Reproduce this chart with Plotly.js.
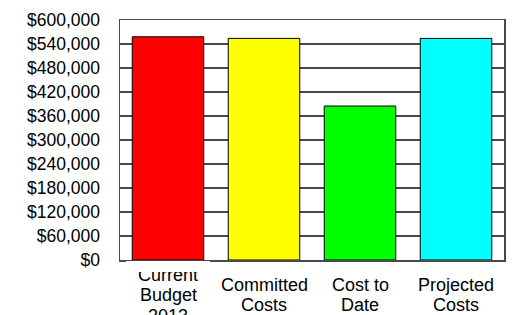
<!DOCTYPE html>
<html>
<head>
<meta charset="utf-8">
<script src="https://cdn.plot.ly/plotly-3.0.1.min.js"></script>
<style>html,body{margin:0;padding:0;background:#fff;}#chart{width:513px;height:315px;}</style>
</head>
<body>
<div id="chart"></div>
<script>
const categories = ["Current Budget 2013", "Committed Costs", "Cost to Date", "Projected Costs"];
const labelLines = [["Current", "Budget", "2013"], ["Committed", "Costs"], ["Cost to", "Date"], ["Projected", "Costs"]];
const values = [558000, 554000, 385000, 554000];
const colors = ["#FF0000", "#FFFF00", "#00FF00", "#00FFFF"];
const tickVals = [0, 60000, 120000, 180000, 240000, 300000, 360000, 420000, 480000, 540000, 600000];
const tickText = tickVals.map(v => "$" + v.toLocaleString("en-US"));

const FONT = "Liberation Sans, Arial, sans-serif";
const FS = 18;
const PLOT_TOP = 20, PLOT_BOTTOM = 260, LINE_H = 20.5;

const trace = {
  type: "bar",
  x: categories,
  y: values,
  marker: {color: colors, line: {color: "#000", width: 1}},
  hoverinfo: "none"
};

const annotations = [];
labelLines.forEach((lines, i) => {
  const centreBase = 301.5;
  const n = lines.length;
  lines.forEach((ln, k) => {
    const base = centreBase + (k - (n - 1) / 2) * LINE_H;
    const mid = base - 6.3;
    annotations.push({
      xref: "x", yref: "paper",
      x: categories[i], y: (PLOT_BOTTOM - mid) / (PLOT_BOTTOM - PLOT_TOP),
      xanchor: "center", yanchor: "middle",
      text: ln, showarrow: false,
      font: {family: FONT, size: FS, color: "#000"}
    });
  });
});
annotations.push({
  xref: "x", yref: "paper",
  x: categories[0], y: (PLOT_BOTTOM - 261) / (PLOT_BOTTOM - PLOT_TOP),
  xanchor: "center", yanchor: "top",
  text: " ", showarrow: false, width: 84, height: 10.5,
  borderpad: 0, borderwidth: 0, bgcolor: "#fff",
  font: {size: 2}
});

const layout = {
  width: 513, height: 315,
  margin: {l: 120, r: 9, t: PLOT_TOP, b: 315 - PLOT_BOTTOM, pad: 0},
  paper_bgcolor: "#fff", plot_bgcolor: "#fff",
  showlegend: false,
  bargap: 0.255,
  font: {family: FONT, size: FS, color: "#000"},
  xaxis: {
    type: "category",
    showticklabels: false,
    showgrid: false,
    showline: true, mirror: true, linecolor: "#4a4a4a", linewidth: 1.5,
    ticks: "",
    zeroline: false
  },
  yaxis: {
    range: [0, 600000],
    tickmode: "array",
    tickvals: tickVals,
    ticktext: tickText,
    ticks: "",
    ticklabelstandoff: 15,
    tickfont: {family: FONT, size: 17.5, color: "#000"},
    showgrid: true, gridcolor: "#4a4a4a", gridwidth: 1.5,
    showline: true, mirror: true, linecolor: "#4a4a4a", linewidth: 1.5,
    zeroline: false,
    fixedrange: true
  },
  annotations: annotations
};

Plotly.newPlot("chart", [trace], layout, {staticPlot: true, displayModeBar: false});
</script>
</body>
</html>
